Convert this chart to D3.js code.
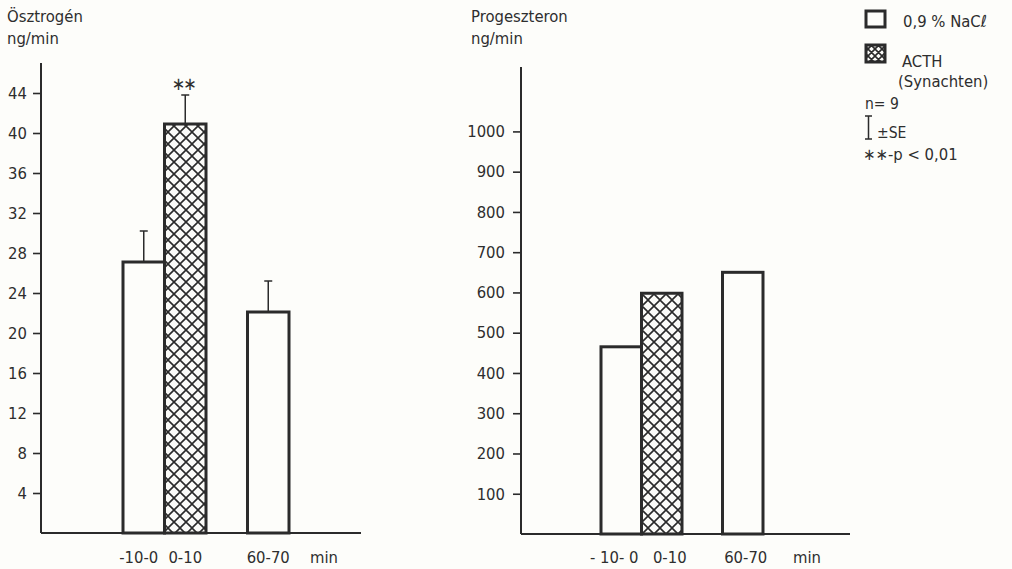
<!DOCTYPE html>
<html>
<head>
<meta charset="utf-8">
<script src="https://cdn.jsdelivr.net/npm/d3@7"></script>
<style>
  html, body { margin: 0; padding: 0; background: #fdfdfa; }
  svg { display: block; }
  text { font-family: "DejaVu Sans Condensed", "DejaVu Sans", sans-serif; fill: #2e2e2e; }
</style>
</head>
<body>
<div id="chart"></div>
<script>
// slots on the x axis ("" is the empty gap between 0-10 and 60-70)
const slots = ['-10-0', '0-10', '', '60-70'];
const treatment = ['NaCl', 'ACTH', 'NaCl'];
const periods = ['-10-0', '0-10', '60-70'];

// Ösztrogén, ng/min (mean, +SE)
const estrogen = [27.1, 40.9, 22.1];
const estrogenSE = [3.1, 2.9, 3.1];
const estrogenTicks = [4, 8, 12, 16, 20, 24, 28, 32, 36, 40, 44];
const estrogenStars = ['', '∗∗', ''];

// Progeszteron, ng/min
const progesterone = [465, 598, 650];
const progesteronTicks = [100, 200, 300, 400, 500, 600, 700, 800, 900, 1000];

const W = 1012, H = 569;
const ink = '#2b2b2b';
const fs = '16.5px';

const svg = d3.select('#chart').append('svg')
  .attr('width', W)
  .attr('height', H);

// cross hatch patterns
const defs = svg.append('defs');
function hatch(id, s, w) {
  const p = defs.append('pattern')
    .attr('id', id)
    .attr('patternUnits', 'userSpaceOnUse')
    .attr('width', s)
    .attr('height', s);
  p.append('rect').attr('width', s).attr('height', s).attr('fill', '#fbfbf8');
  p.append('path')
    .attr('d', `M0,0L${s},${s}M${s},0L0,${s}M${-s / 2},${s / 2}L${s / 2},${s * 1.5}M${s / 2},${-s / 2}L${s * 1.5},${s / 2}`)
    .attr('stroke', '#2a2a2a')
    .attr('stroke-width', w);
}
hatch('xhatch', 12, 1.6);
hatch('xhatchSmall', 7, 1.6);

function panel(opts) {
  const x = d3.scaleBand().domain(slots).range(opts.xRange).padding(0);
  const y = d3.scaleLinear().domain(opts.yDomain).range(opts.yRange);
  const g = svg.append('g');

  // titles
  g.append('text').attr('x', opts.titleX).attr('y', 22)
    .style('font-size', fs).text(opts.title);
  g.append('text').attr('x', opts.titleX).attr('y', 44)
    .style('font-size', fs).text('ng/min');

  // y axis
  const ax = g.append('g')
    .attr('transform', `translate(${opts.xRange[0] - opts.axisGap},0)`)
    .call(d3.axisLeft(y).tickValues(opts.ticks).tickFormat(d3.format('d'))
      .tickSize(8).tickPadding(opts.tickPad).tickSizeOuter(0));
  ax.select('.domain').remove();
  ax.selectAll('.tick line').attr('stroke', ink).attr('stroke-width', 1.6);
  ax.selectAll('.tick text')
    .style('font-family', '"DejaVu Sans Condensed", "DejaVu Sans", sans-serif')
    .style('font-size', fs)
    .attr('fill', '#2e2e2e');

  const x0 = opts.xRange[0] - opts.axisGap;
  g.append('line')
    .attr('x1', x0).attr('x2', x0)
    .attr('y1', y(opts.yDomain[1])).attr('y2', y(0))
    .attr('stroke', ink).attr('stroke-width', 2);
  g.append('line')
    .attr('x1', x0).attr('x2', opts.baseEnd)
    .attr('y1', y(0)).attr('y2', y(0))
    .attr('stroke', ink).attr('stroke-width', 2);

  // bars
  opts.values.forEach((v, i) => {
    const px = x(periods[i]);
    g.append('rect')
      .attr('x', px)
      .attr('y', y(v))
      .attr('width', x.bandwidth())
      .attr('height', y(0) - y(v))
      .attr('fill', treatment[i] === 'ACTH' ? 'url(#xhatch)' : '#fdfdfa')
      .attr('stroke', ink)
      .attr('stroke-width', 3);
  });

  // error bars (+SE only)
  if (opts.se) {
    opts.values.forEach((v, i) => {
      const cx = x(periods[i]) + x.bandwidth() / 2;
      const top = y(v + opts.se[i]);
      g.append('line')
        .attr('x1', cx).attr('x2', cx)
        .attr('y1', y(v)).attr('y2', top)
        .attr('stroke', ink).attr('stroke-width', 1.5);
      g.append('line')
        .attr('x1', cx - 4).attr('x2', cx + 4)
        .attr('y1', top).attr('y2', top)
        .attr('stroke', ink).attr('stroke-width', 1.5);
      if (opts.stars && opts.stars[i]) {
        g.append('text')
          .attr('x', cx - 2).attr('y', top - 5)
          .attr('text-anchor', 'middle')
          .attr('letter-spacing', '-2px')
          .style('font-size', '18px')
          .text(opts.stars[i]);
      }
    });
  }

  // x labels
  periods.forEach((p, i) => {
    g.append('text')
      .attr('x', x(p) + x.bandwidth() / 2 + opts.labelShift[i])
      .attr('y', 563)
      .attr('text-anchor', 'middle')
      .style('font-size', fs)
      .text(opts.labels[i]);
  });
  g.append('text')
    .attr('x', opts.minX).attr('y', 563)
    .attr('text-anchor', 'middle')
    .style('font-size', fs)
    .text('min');
}

panel({
  title: 'Ösztrogén', titleX: 7,
  xRange: [123, 289], axisGap: 82,
  yDomain: [0, 47], yRange: [533, 63],
  ticks: estrogenTicks, tickPad: 6,
  values: estrogen, se: estrogenSE, stars: estrogenStars,
  baseEnd: 361,
  labels: ['-10-0', '0-10', '60-70'], labelShift: [-5, 0, 0],
  minX: 324
});

panel({
  title: 'Progeszteron', titleX: 471,
  xRange: [601, 763], axisGap: 80,
  yDomain: [0, 1160], yRange: [534, 67],
  ticks: progesteronTicks, tickPad: 8,
  values: progesterone, se: null,
  baseEnd: 850,
  labels: ['- 10- 0', '0-10', '60-70'], labelShift: [-7, 8, 3],
  minX: 807
});

// legend
const lg = svg.append('g');
lg.append('rect').attr('x', 866).attr('y', 11).attr('width', 19).attr('height', 16)
  .attr('fill', '#fdfdfa').attr('stroke', ink).attr('stroke-width', 3);
lg.append('text').attr('x', 903).attr('y', 27).style('font-size', fs).text('0,9 % NaCℓ');
lg.append('rect').attr('x', 866).attr('y', 45).attr('width', 19).attr('height', 17)
  .attr('fill', 'url(#xhatchSmall)').attr('stroke', ink).attr('stroke-width', 3);
lg.append('text').attr('x', 902).attr('y', 67).style('font-size', fs).text('ACTH');
lg.append('text').attr('x', 898).attr('y', 87).style('font-size', fs).text('(Synachten)');
lg.append('text').attr('x', 865).attr('y', 109).style('font-size', '15.5px').text('n= 9');
lg.append('path').attr('d', 'M865,116H872M868.5,116V139M865,139H872')
  .attr('fill', 'none').attr('stroke', ink).attr('stroke-width', 1.5);
lg.append('text').attr('x', 877).attr('y', 138).style('font-size', '15.5px').text('±SE');
lg.append('text').attr('x', 863).attr('y', 160).style('font-size', fs).text('∗∗-p < 0,01');
</script>
</body>
</html>
